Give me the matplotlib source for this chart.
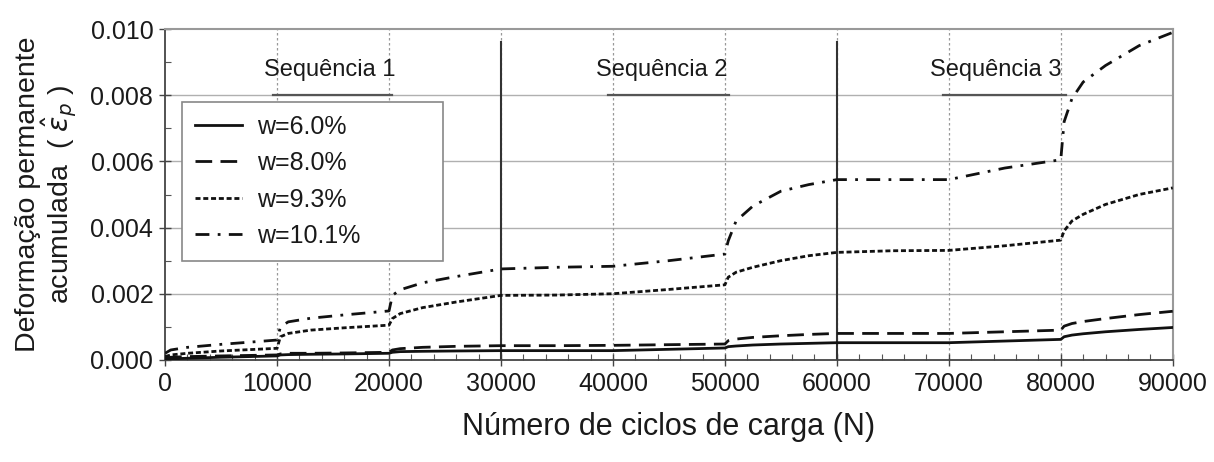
import matplotlib
matplotlib.use("Agg")
import matplotlib.pyplot as plt
from matplotlib.ticker import MultipleLocator, FormatStrFormatter

plt.rcParams['font.family'] = ['Liberation Sans', 'DejaVu Sans']
plt.rcParams['mathtext.fontset'] = 'dejavusans'

# ---- data ----
ciclos = [0, 500, 2000, 5000, 10000, 10300, 11000, 13000, 16000, 20000,
          20300, 21000, 23000, 26000, 30000, 35000, 40000, 45000, 50000,
          50300, 51000, 52500, 55000, 57500, 60000, 65000, 70000, 75000, 80000,
          80300, 81000, 82000, 84000, 87000, 90000]

w60 = [0.0, 0.00003, 0.00005, 0.00008, 0.00012, 0.00015, 0.00016, 0.00017, 0.00018, 0.0002,
       0.00023, 0.00025, 0.00026, 0.00027, 0.00028, 0.00028, 0.00028, 0.00032, 0.00036,
       0.0004, 0.00042, 0.00045, 0.00048, 0.0005, 0.00052, 0.00052, 0.00052, 0.00057, 0.00062,
       0.0007, 0.00075, 0.00079, 0.00085, 0.00092, 0.00098]

w80 = [0.00005, 0.00008, 0.0001, 0.00012, 0.00015, 0.00018, 0.0002, 0.0002, 0.00021, 0.00023,
       0.0003, 0.00034, 0.00038, 0.00041, 0.00043, 0.00043, 0.00044, 0.00046, 0.00048,
       0.00058, 0.00063, 0.00068, 0.00073, 0.00077, 0.0008, 0.0008, 0.0008, 0.00085, 0.0009,
       0.00102, 0.0011, 0.00116, 0.00125, 0.00137, 0.00147]

w93 = [0.0001, 0.00015, 0.0002, 0.00027, 0.00035, 0.0007, 0.0008, 0.0009, 0.00097, 0.00105,
       0.00125, 0.0014, 0.00158, 0.00175, 0.00195, 0.00196, 0.002, 0.00213, 0.00227,
       0.0025, 0.00265, 0.0028, 0.003, 0.00315, 0.00325, 0.0033, 0.00331, 0.00345, 0.00362,
       0.0039, 0.0042, 0.0044, 0.0047, 0.005, 0.0052]

w101 = [0.0002, 0.0003, 0.00038, 0.00047, 0.0006, 0.001, 0.00115, 0.00126, 0.00136, 0.00148,
        0.00195, 0.00212, 0.00233, 0.00252, 0.00275, 0.0028, 0.00283, 0.003, 0.0032,
        0.0036, 0.0042, 0.00465, 0.0051, 0.0053, 0.00545, 0.00545, 0.00545, 0.0058, 0.00605,
        0.0072, 0.0079, 0.0084, 0.0089, 0.0095, 0.0099]

series_labels = ['w=6.0%', 'w=8.0%', 'w=9.3%', 'w=10.1%']
seq_labels = ['Sequência 1', 'Sequência 2', 'Sequência 3']
seq_label_x = [14700, 44400, 74200]
seq_underline = [(9600, 20300), (39600, 50400), (69500, 80500)]
seq_bounds = [30000, 60000]

fig = plt.figure(figsize=(12.14, 4.62), dpi=100)
ax = fig.add_axes([0.136, 0.221, 0.830, 0.716])

ax.set_xlim(0, 90000)
ax.set_ylim(0, 0.010)

# grid
for yv in [0.002, 0.004, 0.006, 0.008]:
    ax.axhline(yv, color='#b0b0b0', lw=1.0, zorder=1)
for xv in range(10000, 90000, 10000):
    ax.axvline(xv, color='#999999', lw=0.9, ls=(0, (2, 2)), zorder=1)

for a, b in seq_underline:
    ax.plot([a, b], [0.008, 0.008], color='#555555', lw=1.6, zorder=2)
for xb in seq_bounds:
    ax.plot([xb, xb], [0, 0.0096], color='#333333', lw=1.5, zorder=2)

for lbl, xc in zip(seq_labels, seq_label_x):
    ax.text(xc, 0.00876, lbl, ha='center', va='center', fontsize=17, color='#1a1a1a')

styles = [
    dict(ls='-'),
    dict(ls=(0, (6, 3))),
    dict(ls=(0, (1.8, 1))),
    dict(ls=(0, (5, 3, 1, 3))),
]
for ys, lab, st in zip([w60, w80, w93, w101], series_labels, styles):
    ax.plot(ciclos, ys, color='#111111', lw=2.0, label=lab, zorder=3, **st)

leg = ax.legend(loc='upper left', bbox_to_anchor=(0.017, 0.323, 0.259, 0.456),
                mode='expand', fontsize=18,
                frameon=True, fancybox=False, edgecolor='#888888', framealpha=1,
                handlelength=1.9, handletextpad=0.6, borderpad=0.5, labelspacing=0.5,
                borderaxespad=0)
leg.get_frame().set_linewidth(1.2)
for t in leg.get_texts():
    t.set_color('#1a1a1a')

ax.xaxis.set_major_locator(MultipleLocator(10000))
ax.xaxis.set_minor_locator(MultipleLocator(2000))
ax.yaxis.set_major_locator(MultipleLocator(0.002))
ax.yaxis.set_minor_locator(MultipleLocator(0.001))
ax.yaxis.set_major_formatter(FormatStrFormatter('%.3f'))
ax.tick_params(which='major', direction='inout', length=9, width=1.0, color='#444444',
               labelsize=18, labelcolor='#1a1a1a', pad=4)
ax.tick_params(which='minor', direction='in', length=4, width=0.8, color='#555555')

for s in ['top', 'right']:
    ax.spines[s].set_color('#999999')
    ax.spines[s].set_linewidth(1.5)
for s in ['left', 'bottom']:
    ax.spines[s].set_color('#444444')
    ax.spines[s].set_linewidth(1.3)

ax.set_xlabel('Número de ciclos de carga (N)', fontsize=22, color='#1a1a1a', labelpad=12)
ax.set_ylabel('Deformação permanente\nacumulada  ( $\\hat{\\varepsilon}_p$ )', fontsize=20.5,
              color='#1a1a1a', labelpad=8, linespacing=0.95)

fig.savefig('out.png', dpi=100)
